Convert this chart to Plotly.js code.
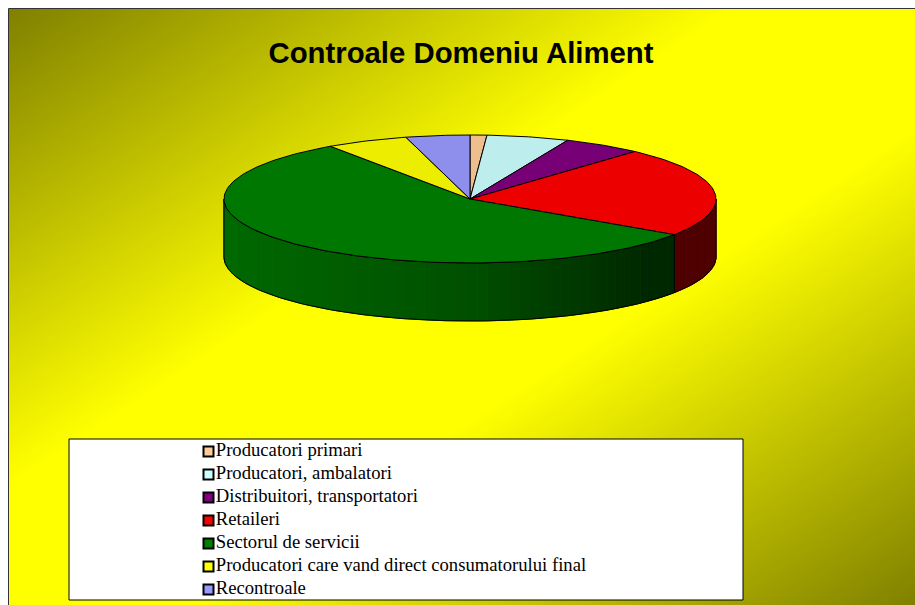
<!DOCTYPE html>
<html>
<head>
<meta charset="utf-8">
<script src="https://cdn.plot.ly/plotly-3.0.1.min.js"></script>
<style>
html,body{margin:0;padding:0;background:#fff;overflow:hidden}
#bg{position:absolute;left:9px;top:9px;width:906px;height:596px;
 background:linear-gradient(to bottom right,#808000 0%,#ffff00 40%,#ffff00 60%,#808000 100%)}
#chart{position:absolute;left:0;top:0;width:915px;height:605px}
</style>
</head>
<body>
<div id="bg"></div>
<div id="chart"></div>
<script>
const chartTitle = "Controale Domeniu Aliment";
const categories = ["Producatori primari","Producatori, ambalatori","Distribuitori, transportatori","Retaileri","Sectorul de servicii","Producatori care vand direct consumatorului final","Recontroale"];
const shares = [1.1, 5.4, 5.2, 22.7, 56.0, 5.4, 4.2];
const legendColors = ["#FFCC99","#CCFFFF","#800080","#FF0000","#008000","#FFFF00","#9999FF"];

// Projection of the tilted disc (pixel axes, see layout)
const cx = 470, cy = 199, rx = 246, ry = 64, depth = 58;
const topShade = 0.93;

function rgb(hex){return [1,3,5].map(i=>parseInt(hex.substr(i,2),16));}
function shade(hex,f){return "rgb("+rgb(hex).map(v=>Math.round(v*f)).join(",")+")";}
function rim(deg,dy){const a=deg*Math.PI/180;return [cx+rx*Math.sin(a),cy-ry*Math.cos(a)+(dy||0)];}
function sideShade(deg){
  const u=Math.sin(deg*Math.PI/180);
  const s=[[-1,.82],[0,.62],[.72,.31],[1,.31]];
  for(let i=1;i<s.length;i++){ if(u<=s[i][0]){const t=(u-s[i-1][0])/(s[i][0]-s[i-1][0]);return s[i-1][1]+t*(s[i][1]-s[i-1][1]);}}
  return .31;
}
function arc(a,b,dy){const n=Math.max(2,Math.ceil(Math.abs(b-a)));const p=[];for(let i=0;i<=n;i++)p.push(rim(a+(b-a)*i/n,dy));return p;}
function poly(pts,extra){return Object.assign({type:"scatter",mode:"lines",x:pts.map(p=>p[0]),y:pts.map(p=>p[1]),fill:"toself",hoverinfo:"skip",showlegend:false},extra);}

const total = shares.reduce((a,b)=>a+b,0);
let acc = 0;
const slices = shares.map((v,i)=>{const s=acc/total*360;acc+=v;return {i,start:s,end:acc/total*360};});

const traces = [];
// walls: only the front half of the disc shows
slices.forEach(sl=>{
  const a=Math.max(sl.start,90), b=Math.min(sl.end,270);
  if(b<=a) return;
  const c=legendColors[sl.i];
  const step=2.5, n=Math.ceil((b-a)/step);
  for(let k=0;k<n;k++){
    const a0=a+(b-a)*k/n, a1=a+(b-a)*(k+1)/n;
    const col=shade(c,sideShade((a0+a1)/2));
    const pts=arc(a0,a1,0).concat(arc(a1,a0,depth));
    pts.push(pts[0]);
    traces.push(poly(pts,{fillcolor:col,line:{color:col,width:1}}));
  }
  const out=arc(a,b,0).concat(arc(b,a,depth));
  out.push(out[0]);
  traces.push(poly(out,{fill:"none",line:{color:"#000",width:1}}));
});
// top face
slices.forEach(sl=>{
  const pts=[[cx,cy]].concat(arc(sl.start,sl.end,0));
  pts.push([cx,cy]);
  traces.push(Object.assign(poly(pts,{fillcolor:shade(legendColors[sl.i],topShade),line:{color:"#000",width:1}}),
    {name:categories[sl.i],hoverinfo:"name"}));
});
// legend rows
const legendX=208.5, legendTop=451.5, legendStep=23;
traces.push({type:"scatter",mode:"markers+text",
  x:categories.map(()=>legendX),
  y:categories.map((_,i)=>legendTop+i*legendStep),
  text:categories,textposition:"middle right",
  textfont:{family:"Liberation Serif",size:18.67,color:"#000"},
  marker:{symbol:"square",size:10,color:legendColors,line:{color:"#000",width:2}},
  cliponaxis:false,hoverinfo:"skip",showlegend:false});

const layout={
  width:915,height:605,margin:{l:0,r:0,t:0,b:0},
  paper_bgcolor:"rgba(0,0,0,0)",plot_bgcolor:"rgba(0,0,0,0)",
  showlegend:false,
  title:{text:"<b>"+chartTitle+"</b>",font:{family:"Liberation Sans",size:29.33,color:"#000"},
    x:461/915,xanchor:"center",xref:"paper",y:1-53/605,yanchor:"middle",yref:"container"},
  xaxis:{range:[0,915],visible:false,fixedrange:true},
  yaxis:{range:[605,0],visible:false,fixedrange:true},
  shapes:[
    {type:"rect",layer:"below",x0:8.5,x1:930,y0:8.5,y1:620,line:{color:"#333",width:1},fillcolor:"rgba(0,0,0,0)"},
    {type:"rect",layer:"below",x0:69,x1:743,y0:439,y1:600,line:{color:"#000",width:1},fillcolor:"#fff"}
  ]
};
Plotly.newPlot("chart",traces,layout,{displayModeBar:false,responsive:false});
</script>
</body>
</html>
